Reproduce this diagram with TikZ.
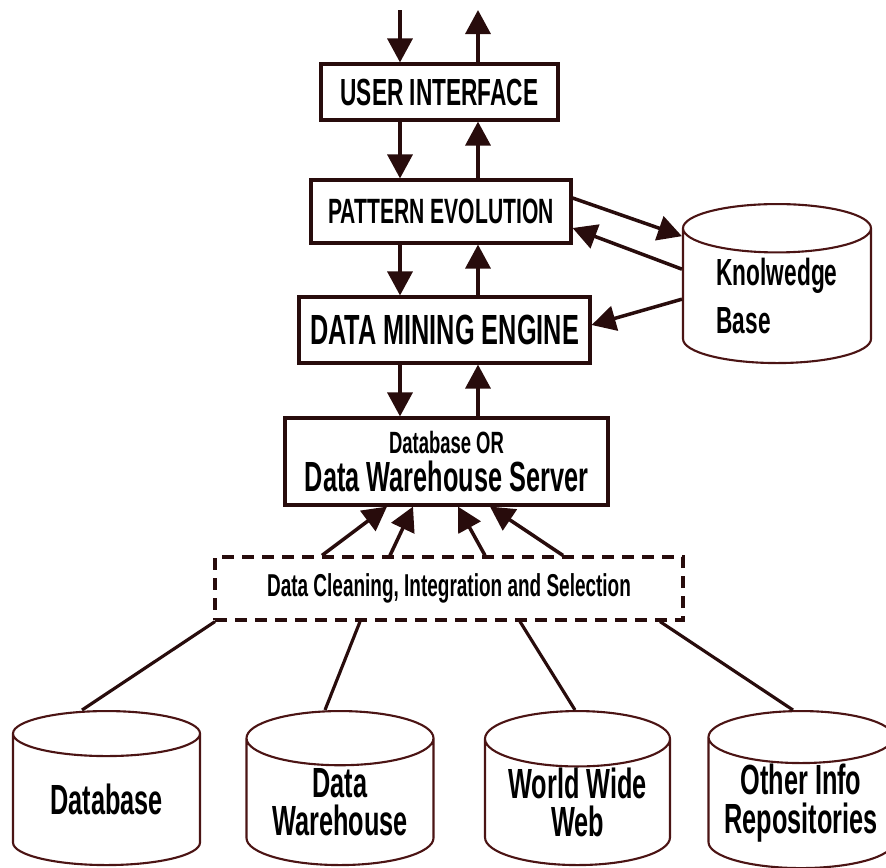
\documentclass[tikz,border=0pt]{standalone}
\usepackage{fontspec}
\setmainfont{Liberation Sans}[FakeStretch=0.6]
\usetikzlibrary{arrows.meta,shapes.geometric}
\definecolor{boxline}{RGB}{40,12,12}
\definecolor{cylline}{RGB}{75,20,20}

\begin{document}
\begin{tikzpicture}[
  box/.style={rectangle, draw=boxline, line width=1.8pt, inner sep=0},
  dbox/.style={box, dash pattern=on 0.24cm off 0.16cm},
  store/.style={cylinder, shape border rotate=90, aspect=0.4, draw=cylline, line width=1.2pt,
    minimum width=3.74cm, minimum height=3.08cm, inner sep=0, align=center, anchor=north},
  arr/.style={draw=boxline, line width=2pt, -{Triangle[length=0.48cm, width=0.5cm]}},
  lnk/.style={draw=boxline, line width=1.8pt},
  font=\bfseries
]
\useasboundingbox (0,0) rectangle (17.72,-17.34);
% main stack
\node[box, minimum width=4.74cm, minimum height=1.12cm, font=\bfseries\fontsize{21.5}{24}\selectfont] (ui) at (8.79,-1.84) {USER INTERFACE};
\node[box, minimum width=5.20cm, minimum height=1.26cm, font=\bfseries\fontsize{20}{23}\selectfont] (pe) at (8.82,-4.23) {PATTERN EVOLUTION};
\node[box, minimum width=5.82cm, minimum height=1.32cm, font=\bfseries\fontsize{24}{26}\selectfont] (dme) at (8.89,-6.60) {DATA MINING ENGINE};
\node[box, minimum width=6.46cm, minimum height=1.74cm, align=center, font=\bfseries\fontsize{24}{21.6}\selectfont] (srv) at (8.93,-9.23)
  {{\fontsize{17.5}{21.6}\selectfont Database OR}\\Data Warehouse Server};
\node[dbox, minimum width=9.36cm, minimum height=1.26cm, font=\bfseries\fontsize{18}{21}\selectfont] (clean) at (8.98,-11.77)
  {Data Cleaning, Integration and Selection};
% knowledge base
\node[store, minimum width=3.76cm, minimum height=3.18cm, align=left, font=\bfseries\fontsize{21.5}{27}\selectfont] (kb) at (15.54,-4.06)
  {Knolwedge\\Base};
% sources
\node[store, font=\bfseries\fontsize{24}{22}\selectfont] (db) at (2.13,-14.2) {Database};
\node[store, font=\bfseries\fontsize{24}{22}\selectfont] (dw) at (6.80,-14.2) {Data\\Warehouse};
\node[store, minimum width=3.70cm, font=\bfseries\fontsize{24}{22}\selectfont] (www) at (11.55,-14.2) {World Wide\\Web};
\node[store, minimum width=3.70cm, font=\bfseries\fontsize{24}{22}\selectfont] (oir) at (16.02,-14.2) {Other Info\\\makebox[2.6cm]{Repositories}};
% in / out
\coordinate (in) at (8.00,-0.2);
\coordinate (out) at (9.56,-0.2);
\draw[arr] (in) -- (in |- ui.north);
\draw[arr] (out |- ui.north) -- (out);
\foreach \a/\b in {ui/pe,pe/dme,dme/srv}{
  \draw[arr] (in |- \a.south) -- (in |- \b.north);
  \draw[arr] (out |- \b.north) -- (out |- \a.south);
}
% knowledge base links
\draw[arr] ([yshift=0.27cm]pe.east) -- ([yshift=1.2cm]kb.west);
\draw[arr] ([yshift=0.54cm]kb.west) -- ([yshift=-0.33cm]pe.east);
\draw[arr] ([yshift=-0.06cm]kb.west) -- ([yshift=0.10cm]dme.east);
% cleaning to server
\foreach \a/\b in {-2.54/-1.19,-1.18/-0.67,0.72/0.23,2.28/0.87}{
  \draw[arr] ([xshift=\a cm]clean.north) -- ([xshift=\b cm]srv.south);
}
% sources to cleaning
\foreach \a/\n/\b in {-4.68/db/-0.49,-1.78/dw/-0.30,1.42/www/-0.05,4.22/oir/-0.16}{
  \draw[lnk] ([xshift=\a cm]clean.south) -- ([xshift=\b cm]\n.north);
}
\end{tikzpicture}
\end{document}
